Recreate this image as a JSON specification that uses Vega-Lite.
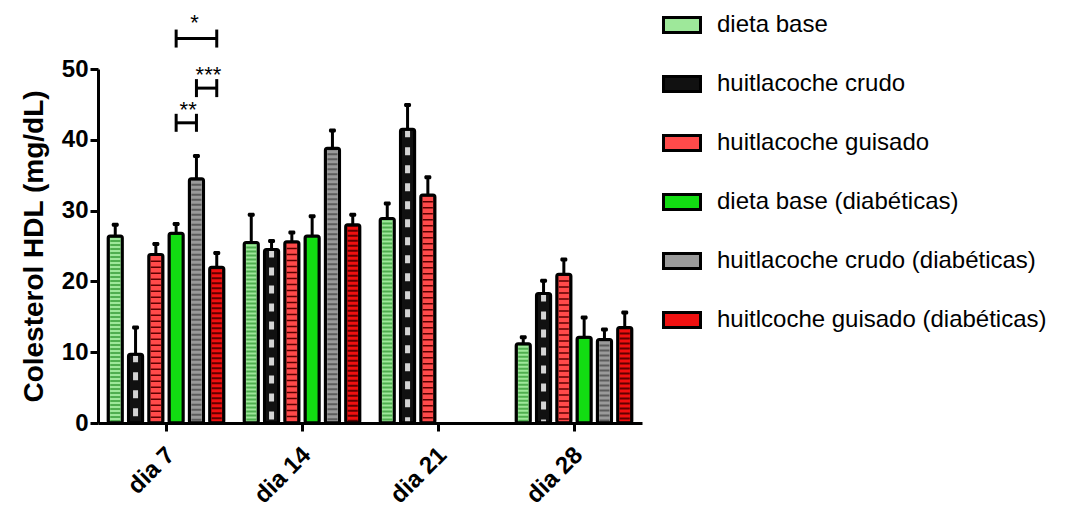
{
  "$schema": "https://vega.github.io/schema/vega-lite/v6.json",
  "width": 544,
  "height": 354,
  "autosize": {"type": "none"},
  "padding": {"left": 98, "top": 69, "right": 423, "bottom": 87},
  "background": "white",
  "config": {
    "view": {"stroke": null},
    "font": "Liberation Sans",
    "axis": {
      "domainColor": "black",
      "domainWidth": 3,
      "tickColor": "black",
      "tickWidth": 3,
      "tickSize": 8,
      "labelColor": "black",
      "labelFont": "Liberation Sans",
      "labelFontWeight": "bold",
      "grid": false,
      "titleColor": "black",
      "titleFont": "Liberation Sans",
      "titleFontWeight": "bold"
    }
  },
  "datasets": {
    "hdl": [
      {"dia": "dia 7", "serie": "dieta base", "hdl": 26.4, "hdl_max": 28.0},
      {"dia": "dia 7", "serie": "huitlacoche crudo", "hdl": 9.7, "hdl_max": 13.5},
      {"dia": "dia 7", "serie": "huitlacoche guisado", "hdl": 23.8, "hdl_max": 25.3},
      {"dia": "dia 7", "serie": "dieta base (diabéticas)", "hdl": 26.8, "hdl_max": 28.1},
      {"dia": "dia 7", "serie": "huitlacoche crudo (diabéticas)", "hdl": 34.5, "hdl_max": 37.7},
      {"dia": "dia 7", "serie": "huitlcoche guisado (diabéticas)", "hdl": 22.0, "hdl_max": 24.0},
      {"dia": "dia 14", "serie": "dieta base", "hdl": 25.5, "hdl_max": 29.4},
      {"dia": "dia 14", "serie": "huitlacoche crudo", "hdl": 24.5, "hdl_max": 25.7},
      {"dia": "dia 14", "serie": "huitlacoche guisado", "hdl": 25.6, "hdl_max": 26.9},
      {"dia": "dia 14", "serie": "dieta base (diabéticas)", "hdl": 26.4, "hdl_max": 29.2},
      {"dia": "dia 14", "serie": "huitlacoche crudo (diabéticas)", "hdl": 38.8, "hdl_max": 41.3},
      {"dia": "dia 14", "serie": "huitlcoche guisado (diabéticas)", "hdl": 28.0, "hdl_max": 29.4},
      {"dia": "dia 21", "serie": "dieta base", "hdl": 28.9, "hdl_max": 31.0},
      {"dia": "dia 21", "serie": "huitlacoche crudo", "hdl": 41.5, "hdl_max": 44.9},
      {"dia": "dia 21", "serie": "huitlacoche guisado", "hdl": 32.2, "hdl_max": 34.7},
      {"dia": "dia 28", "serie": "dieta base", "hdl": 11.2, "hdl_max": 12.1},
      {"dia": "dia 28", "serie": "huitlacoche crudo", "hdl": 18.3, "hdl_max": 20.1},
      {"dia": "dia 28", "serie": "huitlacoche guisado", "hdl": 21.0, "hdl_max": 23.1},
      {"dia": "dia 28", "serie": "dieta base (diabéticas)", "hdl": 12.1, "hdl_max": 14.9},
      {"dia": "dia 28", "serie": "huitlacoche crudo (diabéticas)", "hdl": 11.8, "hdl_max": 13.2},
      {"dia": "dia 28", "serie": "huitlcoche guisado (diabéticas)", "hdl": 13.5, "hdl_max": 15.6}
    ],
    "comparaciones": [
      {"comparacion": "c1", "dia": "dia 7", "serie": "dieta base (diabéticas)", "y": 54.3},
      {"comparacion": "c1", "dia": "dia 7", "serie": "huitlcoche guisado (diabéticas)", "y": 54.3},
      {"comparacion": "c2", "dia": "dia 7", "serie": "huitlacoche crudo (diabéticas)", "y": 47.3},
      {"comparacion": "c2", "dia": "dia 7", "serie": "huitlcoche guisado (diabéticas)", "y": 47.3},
      {"comparacion": "c3", "dia": "dia 7", "serie": "dieta base (diabéticas)", "y": 42.4},
      {"comparacion": "c3", "dia": "dia 7", "serie": "huitlacoche crudo (diabéticas)", "y": 42.4}
    ],
    "significancia": [
      {"dia": "dia 7", "ancla": "huitlacoche crudo (diabéticas)", "y": 54.3, "texto": "*", "centrado": true},
      {"dia": "dia 7", "ancla": "huitlacoche crudo (diabéticas)", "y": 47.3, "texto": "***", "centrado": false},
      {"dia": "dia 7", "ancla": "dieta base (diabéticas)", "y": 42.4, "texto": "**", "centrado": false}
    ]
  },
  "encoding": {
    "x": {
      "field": "dia",
      "type": "nominal",
      "scale": {"domain": ["dia 7", "dia 14", "dia 21", "dia 28"], "paddingInner": 0, "paddingOuter": 0},
      "axis": {
        "title": null,
        "labelAngle": -45,
        "labelFontSize": 24,
        "labelAlign": "right",
        "labelBaseline": "middle",
        "labelPadding": 20,
        "labelOffset": 5
      }
    },
    "xOffset": {
      "field": "serie",
      "type": "nominal",
      "scale": {
        "domain": ["dieta base", "huitlacoche crudo", "huitlacoche guisado", "dieta base (diabéticas)", "huitlacoche crudo (diabéticas)", "huitlcoche guisado (diabéticas)"],
        "paddingInner": 0.3,
        "paddingOuter": 0.5
      }
    }
  },
  "layer": [
    {
      "data": {"name": "hdl"},
      "mark": {"type": "bar", "strokeWidth": 0},
      "encoding": {
        "y": {
          "field": "hdl",
          "type": "quantitative",
          "scale": {"domain": [0, 50], "nice": false},
          "axis": {
            "values": [0, 10, 20, 30, 40, 50],
            "labelFontSize": 24,
            "labelPadding": 2,
            "title": "Colesterol HDL (mg/dL)",
            "titleFontSize": 28,
            "titlePadding": 13
          }
        },
        "fill": {
          "field": "serie",
          "type": "nominal",
          "scale": {
            "domain": ["dieta base", "huitlacoche crudo", "huitlacoche guisado", "dieta base (diabéticas)", "huitlacoche crudo (diabéticas)", "huitlcoche guisado (diabéticas)"],
            "range": ["#9ee89a", "#111111", "#ff4a4a", "#12dc12", "#9a9a9a", "#f01010"]
          },
          "legend": {
            "title": null,
            "orient": "none",
            "legendX": 564,
            "legendY": -64,
            "padding": 0,
            "labelFont": "Liberation Sans",
            "labelFontSize": 24,
            "labelColor": "black",
            "labelOffset": 15,
            "labelLimit": 0,
            "rowPadding": 25,
            "symbolType": "M-1,-0.4H1V0.4H-1Z",
            "symbolSize": 1369,
            "symbolStrokeColor": "black",
            "symbolStrokeWidth": 3,
            "symbolOpacity": 1
          }
        }
      }
    },
    {
      "data": {"name": "hdl"},
      "transform": [{"filter": "datum.serie === 'dieta base'"}],
      "mark": {"type": "rule", "strokeWidth": 10, "color": "#4fae4f", "strokeDash": [2, 2]},
      "encoding": {"y": {"field": "hdl", "type": "quantitative"}, "y2": {"datum": 0}}
    },
    {
      "data": {"name": "hdl"},
      "transform": [{"filter": "datum.serie === 'huitlacoche crudo'"}],
      "mark": {"type": "rule", "strokeWidth": 5, "color": "#d4d4d4", "strokeDash": [8, 10]},
      "encoding": {"y": {"field": "hdl", "type": "quantitative"}, "y2": {"datum": 0}}
    },
    {
      "data": {"name": "hdl"},
      "transform": [{"filter": "datum.serie === 'huitlacoche guisado'"}],
      "mark": {"type": "rule", "strokeWidth": 10, "color": "#5a0000", "strokeDash": [1.5, 4.5]},
      "encoding": {"y": {"field": "hdl", "type": "quantitative"}, "y2": {"datum": 0}}
    },
    {
      "data": {"name": "hdl"},
      "transform": [{"filter": "datum.serie === 'huitlacoche crudo (diabéticas)'"}],
      "mark": {"type": "rule", "strokeWidth": 10, "color": "#5c5c5c", "strokeDash": [2, 3]},
      "encoding": {"y": {"field": "hdl", "type": "quantitative"}, "y2": {"datum": 0}}
    },
    {
      "data": {"name": "hdl"},
      "transform": [{"filter": "datum.serie === 'huitlcoche guisado (diabéticas)'"}],
      "mark": {"type": "rule", "strokeWidth": 10, "color": "#600000", "strokeDash": [2, 3]},
      "encoding": {"y": {"field": "hdl", "type": "quantitative"}, "y2": {"datum": 0}}
    },
    {
      "data": {"name": "hdl"},
      "mark": {"type": "bar", "fill": "transparent", "stroke": "black", "strokeWidth": 3, "cornerRadius": 2},
      "encoding": {"y": {"field": "hdl", "type": "quantitative"}}
    },
    {
      "data": {"name": "hdl"},
      "mark": {"type": "rule", "color": "black", "strokeWidth": 3},
      "encoding": {
        "y": {"field": "hdl", "type": "quantitative"},
        "y2": {"field": "hdl_max"}
      }
    },
    {
      "data": {"name": "hdl"},
      "mark": {"type": "tick", "color": "black", "size": 7, "thickness": 4, "orient": "horizontal", "cornerRadius": 1.5, "opacity": 1},
      "encoding": {"y": {"field": "hdl_max", "type": "quantitative"}}
    },
    {
      "data": {"name": "comparaciones"},
      "mark": {"type": "line", "color": "black", "strokeWidth": 3},
      "encoding": {
        "y": {"field": "y", "type": "quantitative"},
        "detail": {"field": "comparacion"}
      }
    },
    {
      "data": {"name": "comparaciones"},
      "mark": {"type": "tick", "color": "black", "size": 18, "thickness": 3, "orient": "vertical", "opacity": 1},
      "encoding": {"y": {"field": "y", "type": "quantitative"}}
    },
    {
      "data": {"name": "significancia"},
      "transform": [{"filter": "datum.centrado"}],
      "mark": {"type": "text", "fontSize": 22, "font": "Liberation Sans", "color": "black", "baseline": "alphabetic", "dy": -9, "dx": -2},
      "encoding": {
        "xOffset": {"field": "ancla", "type": "nominal"},
        "y": {"field": "y", "type": "quantitative"},
        "text": {"field": "texto"}
      }
    },
    {
      "data": {"name": "significancia"},
      "transform": [{"filter": "!datum.centrado"}],
      "mark": {"type": "text", "fontSize": 22, "font": "Liberation Sans", "color": "black", "baseline": "alphabetic", "dy": -6, "dx": 12},
      "encoding": {
        "xOffset": {"field": "ancla", "type": "nominal"},
        "y": {"field": "y", "type": "quantitative"},
        "text": {"field": "texto"}
      }
    }
  ]
}
